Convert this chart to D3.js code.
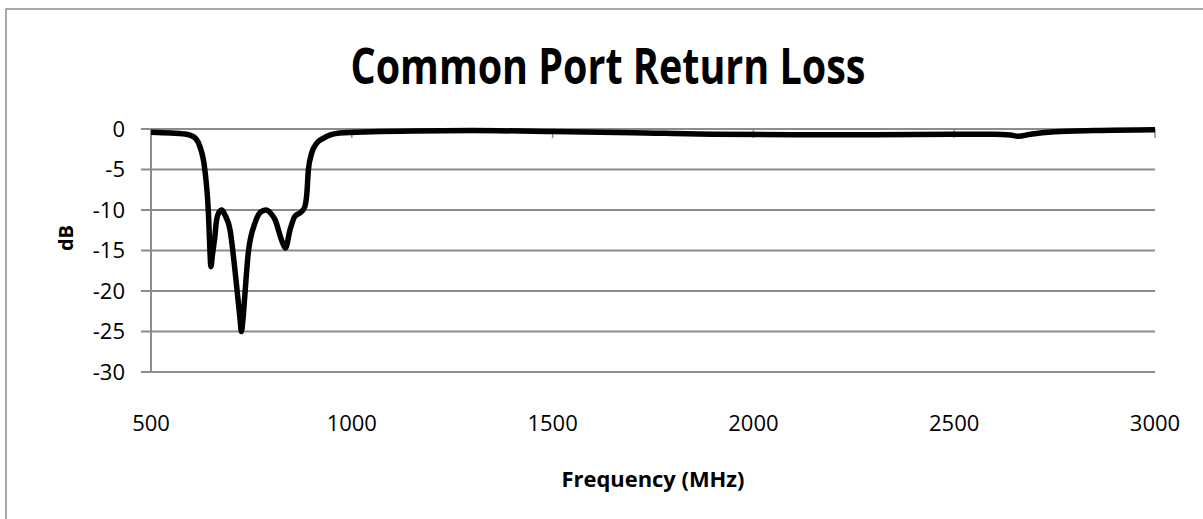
<!DOCTYPE html>
<html>
    <head>
        <script src="https://d3js.org/d3.v7.min.js"></script>
        <style>
            body { margin: 0; background: #fff; }
            text { font-family: "Open Sans", sans-serif; fill: #000; }
        </style>
    </head>
    <body>
        <script>
            // Common port return loss
            let freq = [500, 550, 580, 597, 612, 622, 634, 643, 647, 649, 653, 659, 663, 669, 676,
                        684, 697, 709, 722, 725, 729, 734, 742, 759, 772, 786, 798, 809, 825, 835,
                        846, 858, 875, 883, 888, 892, 900, 912, 929, 970, 1050, 1150, 1300, 1500,
                        1700, 1900, 2100, 2300, 2500, 2600, 2640, 2660, 2690, 2750, 2850, 3000];
            let returnLoss = [-0.4, -0.5, -0.6, -0.75, -1.2, -2.2, -5, -10.4, -15.3, -17, -15.5, -13.3, -11.3, -10.3, -10,
                        -10.6, -12.5, -17.4, -23.6, -25, -23.5, -20.3, -15.4, -11.6, -10.3, -10, -10.4, -11.2, -13.7, -14.7,
                        -12.5, -10.8, -10.2, -9.6, -8, -5, -3, -1.8, -1.15, -0.5, -0.35, -0.25, -0.2, -0.3,
                        -0.45, -0.65, -0.7, -0.7, -0.65, -0.65, -0.75, -0.9, -0.65, -0.35, -0.2, -0.1];
            let xTicks = [500, 1000, 1500, 2000, 2500, 3000];
            let yTicks = [0, -5, -10, -15, -20, -25, -30];

            let width = 1203;
            let height = 519;
            let plotLeft = 151, plotRight = 1155, plotTop = 129, plotBottom = 372;
            let grey = "#8c8c8c";

            let svg = d3.select("body").append("svg")
                    .attr("width", width)
                    .attr("height", height);

            // chart border (runs off right/bottom edge like the original)
            svg.append("rect")
                .attr("x", 6).attr("y", 9)
                .attr("width", 1300).attr("height", 600)
                .attr("fill", "none")
                .attr("stroke", grey)
                .attr("stroke-width", 1.5);

            let x = d3.scaleLinear().domain([500, 3000]).range([plotLeft, plotRight]);
            let y = d3.scaleLinear().domain([-30, 0]).range([plotBottom, plotTop]);

            // horizontal gridlines
            svg.append("g").selectAll("line")
                .data(yTicks)
                .enter().append("line")
                .attr("x1", plotLeft - 10).attr("x2", plotRight)
                .attr("y1", d => y(d)).attr("y2", d => y(d))
                .attr("stroke", grey)
                .attr("stroke-width", 2);

            // vertical axis line
            svg.append("line")
                .attr("x1", plotLeft).attr("x2", plotLeft)
                .attr("y1", plotTop).attr("y2", plotBottom)
                .attr("stroke", grey).attr("stroke-width", 2);

            // x ticks hang from the 0 dB line
            svg.append("g").selectAll("line")
                .data(xTicks)
                .enter().append("line")
                .attr("x1", d => x(d)).attr("x2", d => x(d))
                .attr("y1", y(0)).attr("y2", y(0) + 9)
                .attr("stroke", grey).attr("stroke-width", 1.5);

            // y tick labels
            svg.append("g").selectAll("text")
                .data(yTicks)
                .enter().append("text")
                .attr("x", plotLeft - 26)
                .attr("y", d => y(d))
                .attr("dy", "0.36em")
                .attr("text-anchor", "end")
                .style("font-size", "22px")
                .text(d => d);

            // x tick labels (sit under the plot, not at the axis)
            svg.append("g").selectAll("text")
                .data(xTicks)
                .enter().append("text")
                .attr("x", d => x(d))
                .attr("y", 431)
                .attr("text-anchor", "middle")
                .style("font-size", "22px")
                .text(d => d);

            let line = d3.line()
                .x(d => x(d[0]))
                .y(d => y(d[1]))
                .curve(d3.curveMonotoneX);

            svg.append("path")
                .datum(d3.zip(freq, returnLoss))
                .attr("d", line)
                .attr("fill", "none")
                .attr("stroke", "#000")
                .attr("stroke-width", 5.5)
                .attr("stroke-linejoin", "round");

            // titles
            svg.append("text")
                .attr("x", 608).attr("y", 84)
                .attr("text-anchor", "middle")
                .attr("textLength", 515)
                .attr("lengthAdjust", "spacingAndGlyphs")
                .style("font-size", "50px")
                .style("font-weight", "bold")
                .text("Common Port Return Loss");

            svg.append("text")
                .attr("x", (plotLeft + plotRight) / 2).attr("y", 487)
                .attr("text-anchor", "middle")
                .attr("textLength", 183)
                .attr("lengthAdjust", "spacingAndGlyphs")
                .style("font-size", "22px")
                .style("font-weight", "bold")
                .text("Frequency (MHz)");

            svg.append("text")
                .attr("transform", "translate(73,238) rotate(-90)")
                .attr("text-anchor", "middle")
                .style("font-size", "20px")
                .style("font-weight", "bold")
                .text("dB");
        </script>
    </body>
</html>
